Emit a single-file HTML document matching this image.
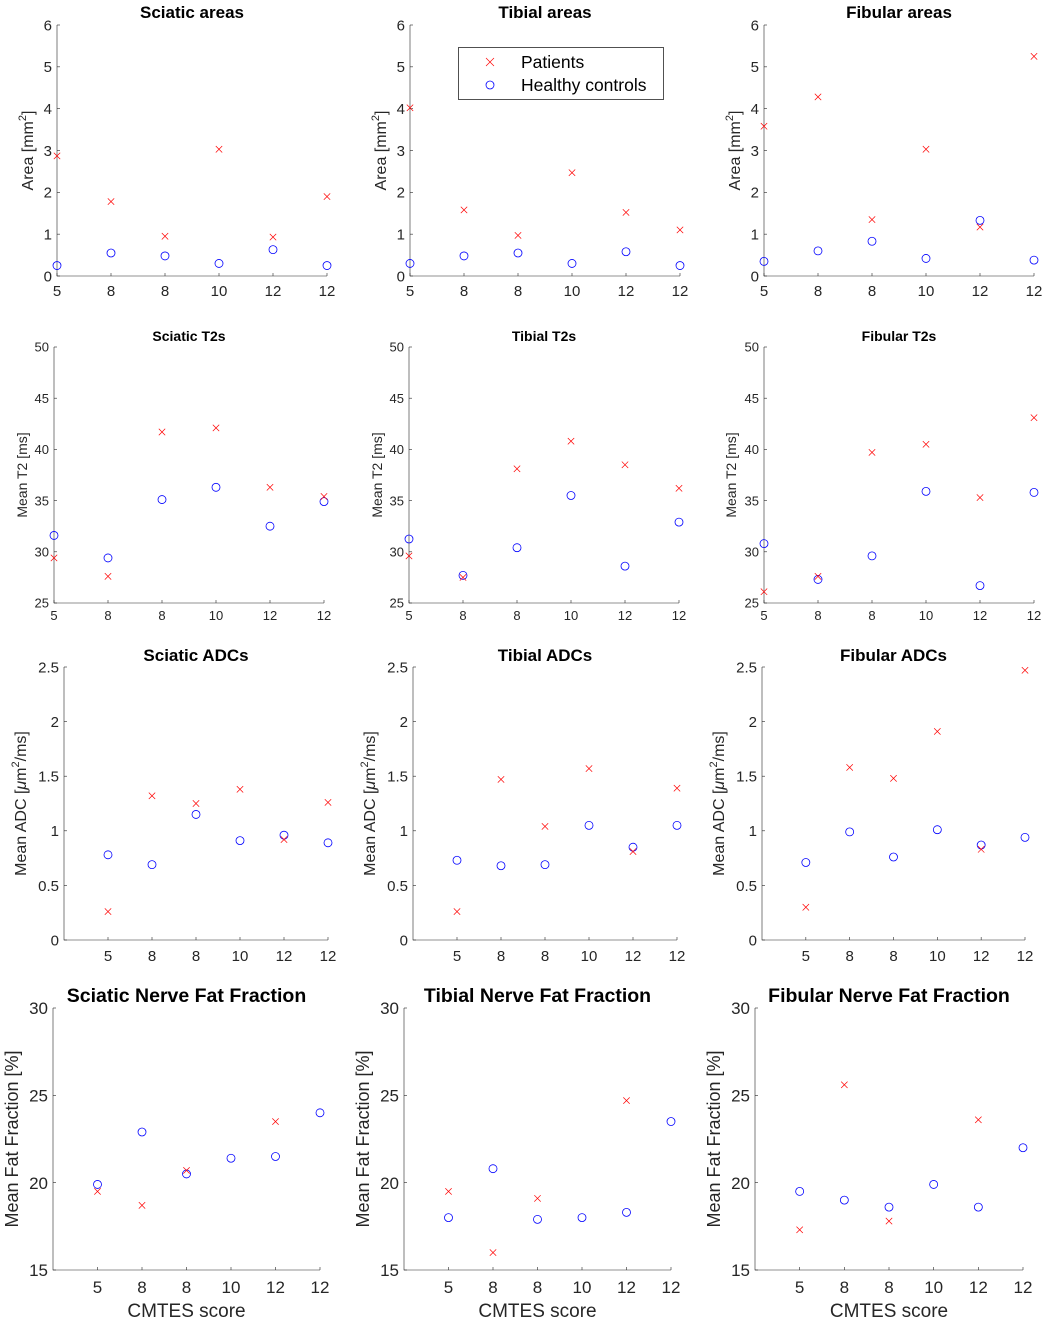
<!DOCTYPE html>
<html><head><meta charset="utf-8"><style>
body{margin:0;background:#fff}
svg{display:block;font-family:"Liberation Sans",sans-serif}
</style></head><body>
<svg id="fig" width="1052" height="1322" viewBox="0 0 1052 1322"></svg>
<script>
const categories = ["5","8","8","10","12","12"];
// Row 1: areas
const sciaticAreaPatients = [2.87,1.78,0.95,3.03,0.93,1.9];
const sciaticAreaControls = [0.25,0.55,0.48,0.3,0.63,0.25];
const tibialAreaPatients = [4.02,1.58,0.97,2.47,1.52,1.1];
const tibialAreaControls = [0.3,0.48,0.55,0.3,0.58,0.25];
const fibularAreaPatients = [3.58,4.28,1.35,3.03,1.17,5.25];
const fibularAreaControls = [0.35,0.6,0.83,0.42,1.33,0.38];
// Row 2: T2
const sciaticT2Patients = [29.4,27.6,41.7,42.1,36.3,35.4];
const sciaticT2Controls = [31.6,29.4,35.1,36.3,32.5,34.9];
const tibialT2Patients = [29.6,27.5,38.1,40.8,38.5,36.2];
const tibialT2Controls = [31.25,27.7,30.4,35.5,28.6,32.9];
const fibularT2Patients = [26.1,27.6,39.7,40.5,35.3,43.1];
const fibularT2Controls = [30.8,27.3,29.6,35.9,26.7,35.8];
// Row 3: ADC
const sciaticADCPatients = [0.26,1.32,1.25,1.38,0.92,1.26];
const sciaticADCControls = [0.78,0.69,1.15,0.91,0.96,0.89];
const tibialADCPatients = [0.26,1.47,1.04,1.57,0.81,1.39];
const tibialADCControls = [0.73,0.68,0.69,1.05,0.85,1.05];
const fibularADCPatients = [0.3,1.58,1.48,1.91,0.83,2.47];
const fibularADCControls = [0.71,0.99,0.76,1.01,0.87,0.94];
// Row 4: fat fraction (null = not shown)
const sciaticFFPatients = [19.5,18.7,20.7,null,23.5,null];
const sciaticFFControls = [19.9,22.9,20.5,21.4,21.5,24.0];
const tibialFFPatients = [19.5,16.0,19.1,null,24.7,null];
const tibialFFControls = [18.0,20.8,17.9,18.0,18.3,23.5];
const fibularFFPatients = [17.3,25.6,17.8,null,23.6,null];
const fibularFFControls = [19.5,19.0,18.6,19.9,18.6,22.0];
const areaTicks = [0,1,2,3,4,5,6];
const t2Ticks = [25,30,35,40,45,50];
const adcTicks = [0,0.5,1,1.5,2,2.5];
const ffTicks = [15,20,25,30];

const NS="http://www.w3.org/2000/svg";
const svg=document.getElementById('fig');
function mk(tag,attrs,parent,text){const e=document.createElementNS(NS,tag);for(const k in attrs)e.setAttribute(k,attrs[k]);if(text!==undefined)e.textContent=text;(parent||svg).appendChild(e);return e;}

const rows=[
 {y0:25,y1:276,ymin:0,ymax:6,ticks:areaTicks,xl0:1,tfs:17,ty:18,fs:15,xo:20,lab:'Area [mm<tspan dy="-7" font-size="11">2</tspan><tspan dy="7">]</tspan>',lx:[33,386,740],lfs:16,
  p:[{x0:57,x1:327,t:"Sciatic areas",pa:sciaticAreaPatients,co:sciaticAreaControls},{x0:410,x1:680,t:"Tibial areas",pa:tibialAreaPatients,co:tibialAreaControls},{x0:764,x1:1034,t:"Fibular areas",pa:fibularAreaPatients,co:fibularAreaControls}]},
 {y0:347,y1:603,ymin:25,ymax:50,ticks:t2Ticks,xl0:1,tfs:14,ty:341,fs:13,xo:17,lab:'Mean T2 [ms]',lx:[27,382,736],lfs:14,
  p:[{x0:54,x1:324,t:"Sciatic T2s",pa:sciaticT2Patients,co:sciaticT2Controls},{x0:409,x1:679,t:"Tibial T2s",pa:tibialT2Patients,co:tibialT2Controls},{x0:764,x1:1034,t:"Fibular T2s",pa:fibularT2Patients,co:fibularT2Controls}]},
 {y0:667,y1:940,ymin:0,ymax:2.5,ticks:adcTicks,xl0:0,tfs:17,ty:661,fs:15,xo:21,lab:'Mean ADC [<tspan font-style="italic">μ</tspan>m<tspan dy="-7" font-size="11">2</tspan><tspan dy="7">/ms]</tspan>',lx:[26,375,724],lfs:16,
  p:[{x0:64,x1:328,t:"Sciatic ADCs",pa:sciaticADCPatients,co:sciaticADCControls},{x0:413,x1:677,t:"Tibial ADCs",pa:tibialADCPatients,co:tibialADCControls},{x0:762,x1:1025,t:"Fibular ADCs",pa:fibularADCPatients,co:fibularADCControls}]},
 {y0:1008,y1:1270,ymin:15,ymax:30,ticks:ffTicks,xl0:0,tfs:19.5,ty:1002,fs:17,xo:23,lab:'Mean Fat Fraction [%]',lx:[18,369,720],lfs:18,xlabel:true,
  p:[{x0:53,x1:320,t:"Sciatic Nerve Fat Fraction",pa:sciaticFFPatients,co:sciaticFFControls},{x0:404,x1:671,t:"Tibial Nerve Fat Fraction",pa:tibialFFPatients,co:tibialFFControls},{x0:755,x1:1023,t:"Fibular Nerve Fat Fraction",pa:fibularFFPatients,co:fibularFFControls}]}
];
rows.forEach((r,ri)=>{
 r.p.forEach((p,pi)=>{
  const g=mk('g',{});
  
  
  const X=i=>p.x0+(i+1-r.xl0)*(p.x1-p.x0)/(6-r.xl0);
  const Y=v=>r.y1-(v-r.ymin)*(r.y1-r.y0)/(r.ymax-r.ymin);
  const ax=mk('path',{d:`M${p.x0} ${r.y0}V${r.y1}H${p.x1}`,fill:'none',stroke:'#262626','stroke-width':0.6},g);
  
  r.ticks.forEach(t=>{const y=Y(t);mk('line',{x1:p.x0,x2:p.x0+3,y1:y,y2:y,stroke:'#262626','stroke-width':0.6},g);
   const tl=mk('text',{x:p.x0-5,y:y+r.fs*0.36,'text-anchor':'end','font-size':r.fs,fill:'#262626'},g,String(t));
   });
  categories.forEach((c,i)=>{const x=X(i);mk('line',{x1:x,x2:x,y1:r.y1,y2:r.y1-3,stroke:'#262626','stroke-width':0.6},g);
   const tl=mk('text',{x:x,y:r.y1+r.xo,'text-anchor':'middle','font-size':r.fs,fill:'#262626'},g,c);
   });
  const tt=mk('text',{x:(p.x0+p.x1)/2,y:r.ty,'text-anchor':'middle','font-size':r.tfs,'font-weight':'bold',fill:'#000'},g,p.t);
  
  const yl=mk('text',{transform:`translate(${r.lx[pi]},${(r.y0+r.y1)/2}) rotate(-90)`,'text-anchor':'middle','font-size':r.lfs,fill:'#262626'},g);
  yl.innerHTML=r.lab;
  
  if(r.xlabel){const xl=mk('text',{x:(p.x0+p.x1)/2,y:1317,'text-anchor':'middle','font-size':19,fill:'#262626'},g,'CMTES score');
   }
  p.co.forEach((v,i)=>{if(v===null)return;const c=mk('circle',{cx:X(i),cy:Y(v),r:4,fill:'none',stroke:'#0000ff','stroke-width':0.8},g);
   });
  p.pa.forEach((v,i)=>{if(v===null)return;const x=X(i),y=Y(v),s=3.2;
   const m=mk('path',{d:`M${x-s} ${y-s}L${x+s} ${y+s}M${x-s} ${y+s}L${x+s} ${y-s}`,stroke:'#ff0000','stroke-width':0.7},g);
   });
 });
});
// legend
const lg=mk('g',{});

mk('rect',{x:458.5,y:47.5,width:205,height:52,fill:'#fff',stroke:'#262626','stroke-width':0.8},lg);
mk('path',{d:'M486 58L494 66M486 66L494 58',stroke:'#ff0000','stroke-width':0.7},lg);
mk('circle',{cx:490,cy:85,r:4,fill:'none',stroke:'#0000ff','stroke-width':0.8},lg);
const l1=mk('text',{x:521,y:68,'font-size':17.5,fill:'#000'},lg,'Patients');

const l2=mk('text',{x:521,y:91,'font-size':17.5,fill:'#000'},lg,'Healthy controls');

</script>
</body></html>
